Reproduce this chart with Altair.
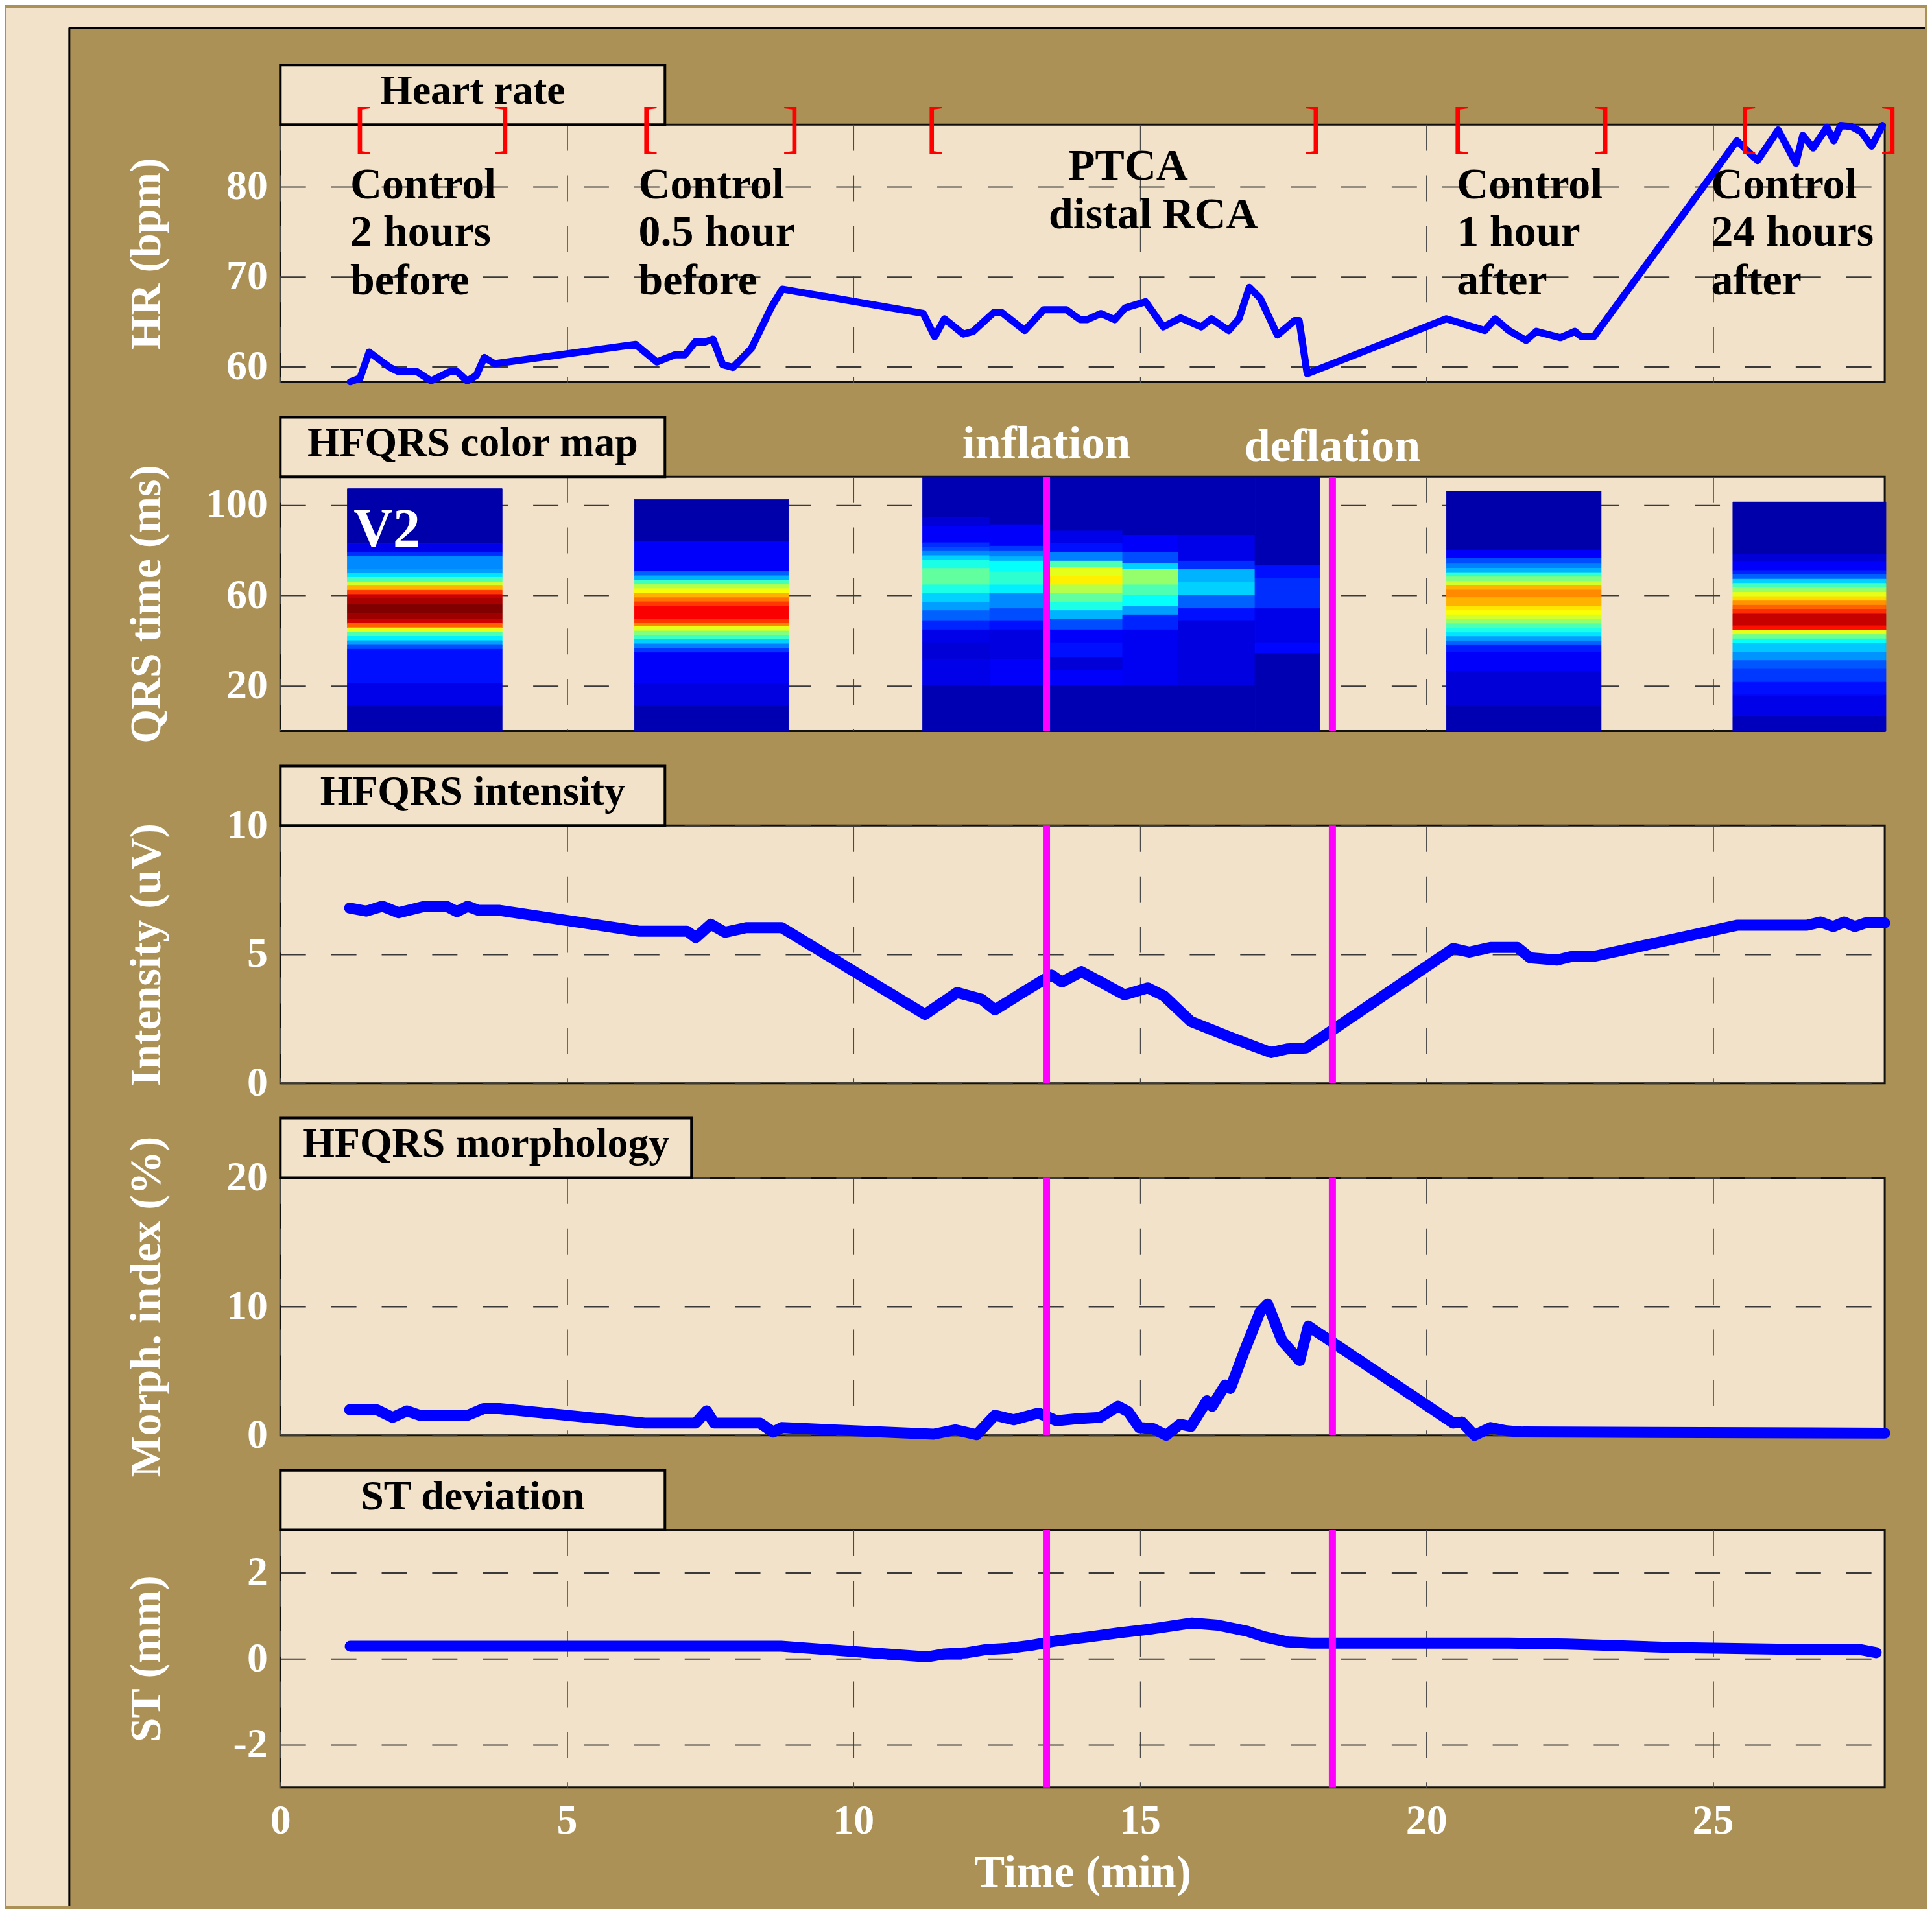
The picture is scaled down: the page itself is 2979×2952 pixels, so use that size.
import altair as alt
import pandas as pd

# ---------------- data ----------------
hr_t = [1.22, 1.39, 1.55, 1.91, 2.07, 2.39, 2.63, 2.95, 3.09, 3.26, 3.42, 3.56, 3.74,
        6.2, 6.57, 6.89, 7.06, 7.25, 7.4, 7.55, 7.72, 7.9, 8.22, 8.57, 8.76,
        11.22, 11.42, 11.59, 11.92, 12.09, 12.45, 12.59, 12.99, 13.32, 13.72, 13.96, 14.08,
        14.32, 14.56, 14.74, 15.10, 15.41, 15.71, 16.07, 16.25, 16.55, 16.73, 16.91, 17.10,
        17.40, 17.70, 17.78, 17.92, 20.35, 21.02, 21.20, 21.44, 21.74, 21.92, 22.34, 22.59,
        22.71, 22.92, 25.42, 25.78, 26.14, 26.45, 26.57, 26.75, 26.99, 27.11, 27.23, 27.41,
        27.59, 27.77, 27.96]
hr_v = [58.3, 58.7, 61.6, 59.9, 59.4, 59.4, 58.4, 59.4, 59.4, 58.4, 59.0, 61.0, 60.3,
        62.45, 60.5, 61.3, 61.3, 62.8, 62.7, 63.05, 60.2, 59.9, 62.0, 66.6, 68.6,
        65.9, 63.3, 65.3, 63.6, 63.9, 66.0, 66.0, 64.0, 66.3, 66.3, 65.2, 65.2,
        65.9, 65.2, 66.5, 67.2, 64.4, 65.4, 64.4, 65.3, 64.0, 65.3, 68.8, 67.6,
        63.5, 65.1, 65.1, 59.2, 65.3, 64.0, 65.3, 64.0, 62.9, 63.9, 63.2, 63.9,
        63.3, 63.3, 85.1, 82.9, 86.3, 82.6, 85.7, 84.3, 86.6, 85.1, 86.8, 86.7,
        86.1, 84.5, 86.8]

int_t = [1.21, 1.5, 1.78, 2.06, 2.52, 2.9, 3.08, 3.27, 3.46, 3.83, 6.26, 7.1, 7.25, 7.51,
         7.76, 8.13, 8.75, 11.25, 11.81, 12.24, 12.47, 12.99, 13.46, 13.64, 13.98, 14.39,
         14.73, 15.14, 15.42, 15.89, 16.54, 17.01, 17.29, 17.57, 17.9, 20.47, 20.75,
         21.12, 21.59, 21.81, 22.28, 22.52, 22.9, 25.42, 26.64, 26.88, 27.1, 27.29, 27.48,
         27.66, 28.0]
int_v = [6.8, 6.68, 6.87, 6.62, 6.87, 6.87, 6.66, 6.87, 6.71, 6.71, 5.9, 5.9, 5.65, 6.17,
         5.86, 6.04, 6.04, 2.67, 3.52, 3.26, 2.85, 3.57, 4.2, 3.93, 4.33, 3.84,
         3.43, 3.7, 3.39, 2.4, 1.82, 1.42, 1.19, 1.33, 1.37, 5.23, 5.09,
         5.27, 5.27, 4.87, 4.78, 4.91, 4.91, 6.13, 6.13, 6.26, 6.08, 6.26, 6.08,
         6.22, 6.22]

mor_t = [1.21, 1.68, 1.96, 2.21, 2.43, 3.27, 3.55, 3.83, 6.36, 7.25, 7.44, 7.57, 8.37, 8.6,
         8.75, 11.4, 11.78, 12.15, 12.47, 12.8, 13.23, 13.55, 13.93, 14.3, 14.62, 14.8,
         14.99, 15.23, 15.46, 15.7, 15.89, 16.17, 16.26, 16.49, 16.58, 16.82, 17.1, 17.23,
         17.48, 17.79, 17.94, 20.47, 20.62, 20.84, 21.12, 21.4, 21.68, 28.0]
mor_v = [1.99, 1.99, 1.39, 1.9, 1.56, 1.56, 2.08, 2.08, 0.95, 0.95, 1.9, 0.95, 0.95, 0.26,
         0.6, 0.09, 0.43, 0.05, 1.56, 1.21, 1.73, 1.13, 1.3, 1.39, 2.25, 1.82,
         0.6, 0.52, 0.0, 0.87, 0.69, 2.68, 2.25, 3.9, 3.64, 6.49, 9.61, 10.2,
         7.36, 5.8, 8.48, 0.95, 1.04, 0.0, 0.6, 0.35, 0.26, 0.17]

st_t = [1.22, 8.74, 11.28, 11.59, 11.99, 12.3, 12.7, 13.11, 13.52, 14.13, 14.63, 15.14,
        15.55, 15.91, 16.36, 16.87, 17.17, 17.58, 17.99, 21.44, 22.46, 24.29, 26.12,
        27.54, 27.85]
st_v = [0.29, 0.29, 0.04, 0.11, 0.14, 0.21, 0.24, 0.31, 0.41, 0.51, 0.6, 0.68,
        0.76, 0.83, 0.78, 0.64, 0.51, 0.39, 0.36, 0.36, 0.34, 0.26, 0.22,
        0.22, 0.14]

# HFQRS colour map: column blocks (time span) with band edges (ms, top->bottom)
# and normalised HF-QRS intensity per band
hm_span = [(1.17, 3.87), (6.18, 8.87),
           (11.21, 12.38), (12.38, 13.37), (13.37, 14.7), (14.7, 15.67), (15.67, 17.01),
           (17.01, 18.14),
           (20.35, 23.05), (25.35, 28.02)]
hm_edges = [
    [107.2, 83, 79, 77.3, 71.6, 69.7, 68, 66, 64.2, 62.3, 60.4, 58.5, 56, 52, 49.6, 47.6,
     45.7, 43.8, 41.9, 40, 38, 36.2, 21, 11, 0],
    [102.5, 84, 70.6, 68.7, 66.8, 64.9, 63, 61, 59, 57.2, 55.3, 49.6, 47.6, 46.2, 44.3,
     42.4, 40.5, 38.6, 36.7, 34.8, 21, 11, 0],
    [112.5, 94.6, 90.4, 83.3, 81.4, 79.5, 77.6, 75.7, 71.9, 64.7, 60.9, 57.1, 53.3, 48.6,
     44.8, 39.1, 31.5, 20.1, 0],
    [112.5, 91.3, 81.8, 79.5, 77.1, 75.2, 70.4, 64.7, 60.9, 54.3, 48.6, 44.8, 31.5, 20.1, 0],
    [112.5, 88.5, 82.8, 79, 75.2, 72.3, 68.5, 64.7, 60.9, 57.1, 53.3, 49.5, 44.8, 39.1,
     32.5, 26.7, 20.1, 0],
    [112.5, 86.6, 79, 74.2, 71.4, 64.7, 60, 55.2, 51.4, 44.8, 20.1, 0],
    [112.5, 86.6, 75.2, 71.4, 65.7, 60, 54.3, 48.6, 20.1, 0],
    [112.5, 73.3, 67.6, 54.3, 39.1, 34.3, 0],
    [106, 80.1, 76.3, 73.9, 72, 70.1, 68.2, 66.2, 64.3, 62.4, 59, 55.2, 53.3, 51.4, 49.4,
     47.5, 45.6, 43.7, 41.8, 39.9, 37.9, 35, 26.4, 11, 0],
    [101.3, 78.2, 74.9, 71, 69.1, 67.2, 65.3, 63.4, 61.4, 59.5, 57.6, 55.7, 53.8, 51.8,
     46.6, 44.7, 42.7, 40.8, 38.9, 35, 31.2, 27.4, 21.6, 15.9, 6.3, 0],
]
hm_vals = [
    [0.03, 0.1, 0.17, 0.26, 0.28, 0.35, 0.45, 0.58, 0.7, 0.82, 0.93, 0.96, 1.0, 0.97, 0.92,
     0.78, 0.6, 0.45, 0.36, 0.28, 0.2, 0.14, 0.1, 0.04],
    [0.03, 0.12, 0.22, 0.3, 0.44, 0.55, 0.62, 0.7, 0.76, 0.82, 0.88, 0.82, 0.74, 0.6, 0.5,
     0.43, 0.33, 0.25, 0.18, 0.12, 0.09, 0.04],
    [0.04, 0.08, 0.12, 0.17, 0.2, 0.26, 0.33, 0.4, 0.47, 0.4, 0.33, 0.28, 0.22, 0.16, 0.1,
     0.08, 0.1, 0.04],
    [0.04, 0.12, 0.18, 0.25, 0.3, 0.38, 0.42, 0.36, 0.26, 0.2, 0.14, 0.09, 0.12, 0.04],
    [0.04, 0.1, 0.14, 0.25, 0.45, 0.6, 0.64, 0.55, 0.47, 0.4, 0.3, 0.2, 0.12, 0.14, 0.08,
     0.12, 0.04],
    [0.04, 0.12, 0.2, 0.33, 0.52, 0.45, 0.38, 0.28, 0.16, 0.11, 0.04],
    [0.04, 0.1, 0.17, 0.3, 0.33, 0.22, 0.14, 0.09, 0.04],
    [0.04, 0.14, 0.17, 0.1, 0.13, 0.04],
    [0.03, 0.12, 0.2, 0.25, 0.3, 0.42, 0.5, 0.58, 0.7, 0.74, 0.7, 0.65, 0.62, 0.58, 0.52,
     0.45, 0.4, 0.35, 0.28, 0.22, 0.15, 0.12, 0.08, 0.04],
    [0.03, 0.08, 0.12, 0.16, 0.22, 0.33, 0.44, 0.52, 0.6, 0.66, 0.73, 0.78, 0.83, 0.93,
     0.86, 0.6, 0.48, 0.38, 0.32, 0.27, 0.21, 0.18, 0.14, 0.1, 0.05],
]

balloon_t = [13.37, 18.36]
balloon_label = ["inflation", "deflation"]
balloon_label_y = [120.5, 119.4]

ann_text = ["Control", "2 hours", "before", "Control", "0.5 hour", "before",
            "Control", "1 hour", "after", "Control", "24 hours", "after",
            "PTCA", "distal RCA"]
ann_t = [1.22, 1.22, 1.22, 6.25, 6.25, 6.25, 20.53, 20.53, 20.53, 24.97, 24.97, 24.97,
         13.75, 13.41]
ann_y = [78.7, 73.4, 68.05, 78.7, 73.4, 68.05, 78.7, 73.4, 68.05, 78.7, 73.4, 68.05,
         80.76, 75.35]

br_t = [1.44, 3.87, 6.44, 8.92, 11.42, 18.02, 20.6, 23.07, 25.61, 28.08]
br_s = ["[", "]", "[", "]", "[", "]", "[", "]", "[", "]"]
br_y = 84.5

panel_titles = ["Heart rate", "HFQRS color map", "HFQRS intensity", "HFQRS morphology",
                "ST deviation"]
x_ticks = [0, 5, 10, 15, 20, 25]

# ---------------- style ----------------
FONT = "Liberation Serif"
BEIGE = "#f1e2c9"
KHAKI = "#ab9155"
W = 2478
H = [398, 393, 398, 398, 398]
BOX_W = [594, 594, 594, 635, 594]
XS = alt.Scale(domain=[0, 28], nice=False, zero=False)


def xaxis(bottom):
    common = dict(values=x_ticks, grid=True, gridDash=[40, 38], gridColor="#4a4a4a",
                  gridWidth=1.5, domain=False, ticks=False, labelFlush=False)
    if bottom:
        return alt.Axis(title="Time (min)", labelPadding=20, labelFont=FONT,
                        labelFontSize=64, labelFontWeight="bold", labelColor="white",
                        titleFont=FONT, titleFontSize=70, titleFontWeight="bold",
                        titleColor="white", titleX=W / 2, titleY=153,
                        titleBaseline="alphabetic", titleAlign="center", **common)
    return alt.Axis(title=None, labels=False, **common)


def yaxis(title, values, h, expr=None):
    kw = dict(title=title, values=values, grid=True, gridDash=[39, 39],
              gridColor="#3a3a3a", gridWidth=2, domain=False, ticks=False,
              labelPadding=20, labelFont=FONT, labelFontSize=64,
              labelFontWeight="bold", labelColor="white", titleFont=FONT,
              titleFontSize=68, titleFontWeight="bold", titleColor="white",
              titleAngle=270, titleX=-186, titleY=h / 2, titleBaseline="alphabetic",
              titleAlign="center")
    if expr:
        kw["labelExpr"] = expr
    return alt.Axis(**kw)


def title_layers(i):
    df = pd.DataFrame({"label": [panel_titles[i]]})
    box = alt.Chart(df).mark_rect(fill=BEIGE, stroke="black", strokeWidth=4).encode(
        x=alt.value(0), x2=alt.value(BOX_W[i]), y=alt.value(-92), y2=alt.value(0))
    txt = alt.Chart(df).mark_text(font=FONT, fontSize=64, fontWeight="bold",
                                  color="black", align="center",
                                  baseline="alphabetic").encode(
        x=alt.value(BOX_W[i] / 2), y=alt.value(-32), text="label:N")
    return [box, txt]


def line_layer(t, v, ys, ya, xa, width):
    df = pd.DataFrame({"t": t, "v": v})
    return alt.Chart(df).mark_line(color="#0000ff", strokeWidth=width,
                                   strokeJoin="round", strokeCap="round").encode(
        x=alt.X("t:Q", scale=XS, axis=xa), y=alt.Y("v:Q", scale=ys, axis=ya))


def balloon_layer(xa):
    df = pd.DataFrame({"t": balloon_t})
    return alt.Chart(df).mark_rule(color="#ff00ff", strokeWidth=11).encode(
        x=alt.X("t:Q", scale=XS, axis=xa))


# ---------------- panel 1: heart rate ----------------
deco = pd.DataFrame({"k": [0]})
strip_left = alt.Chart(deco).mark_rect(fill=BEIGE).encode(
    x=alt.value(-423), x2=alt.value(-326), y=alt.value(-180), y2=alt.value(2752))
strip_top = alt.Chart(deco).mark_rect(fill=BEIGE).encode(
    x=alt.value(-423), x2=alt.value(2540), y=alt.value(-180), y2=alt.value(-150))
border_v = alt.Chart(deco).mark_rule(color="black", strokeWidth=3).encode(
    x=alt.value(-326), y=alt.value(-150), y2=alt.value(2752))
border_h = alt.Chart(deco).mark_rule(color="black", strokeWidth=3).encode(
    x=alt.value(-326), x2=alt.value(2540), y=alt.value(-150))

ys1 = alt.Scale(domain=[58.25, 86.9], nice=False, zero=False)
ya1 = yaxis("HR (bpm)", [60, 70, 80], H[0])
xa_top = xaxis(False)
ann_df = pd.DataFrame({"t": ann_t, "v": ann_y, "s": ann_text})
ann = alt.Chart(ann_df).mark_text(font=FONT, fontSize=68, fontWeight="bold",
                                  color="black", align="left",
                                  baseline="alphabetic").encode(
    x=alt.X("t:Q", scale=XS, axis=xa_top), y=alt.Y("v:Q", scale=ys1, axis=ya1),
    text="s:N")
br_df = pd.DataFrame({"t": br_t, "v": [br_y] * len(br_t), "s": br_s})
brackets = alt.Chart(br_df).mark_text(font=FONT, fontSize=86, color="#ff0000",
                                      align="center", baseline="alphabetic").encode(
    x=alt.X("t:Q", scale=XS, axis=xa_top), y=alt.Y("v:Q", scale=ys1, axis=ya1),
    text="s:N")
p1 = alt.layer(strip_left, strip_top, border_v, border_h, *title_layers(0),
               line_layer(hr_t, hr_v, ys1, ya1, xa_top, 11), ann, brackets
               ).properties(width=W, height=H[0])

# ---------------- panel 2: colour map ----------------
rows = []
for (x0, x1), edges, vals in zip(hm_span, hm_edges, hm_vals):
    assert len(edges) == len(vals) + 1
    for k, val in enumerate(vals):
        rows.append({"x0": x0, "x1": x1, "y0": edges[k + 1], "y1": edges[k], "v": val})
hm_df = pd.DataFrame(rows)
ys2 = alt.Scale(domain=[0, 112.5], nice=False, zero=False)
ya2 = yaxis("QRS time (ms)", [20, 60, 100], H[1])
jet = alt.Scale(domain=[0, 0.125, 0.375, 0.625, 0.875, 1],
                range=["#00008f", "#0000ff", "#00ffff", "#ffff00", "#ff0000", "#800000"],
                interpolate="rgb")
heat = alt.Chart(hm_df).mark_rect(strokeWidth=1).encode(
    x=alt.X("x0:Q", scale=XS, axis=xa_top), x2="x1:Q",
    y=alt.Y("y0:Q", scale=ys2, axis=ya2), y2="y1:Q",
    color=alt.Color("v:Q", scale=jet, legend=None),
    stroke=alt.Stroke("v:Q", scale=jet, legend=None))
bl_df = pd.DataFrame({"t": balloon_t, "v": balloon_label_y, "s": balloon_label})
bl_txt = alt.Chart(bl_df).mark_text(font=FONT, fontSize=72, fontWeight="bold",
                                    color="white", align="center",
                                    baseline="alphabetic").encode(
    x=alt.X("t:Q", scale=XS, axis=xa_top), y=alt.Y("v:Q", scale=ys2, axis=ya2),
    text="s:N")
v2_df = pd.DataFrame({"t": [1.28], "v": [81.6], "s": ["V2"]})
v2_txt = alt.Chart(v2_df).mark_text(font=FONT, fontSize=84, fontWeight="bold",
                                    color="white", align="left",
                                    baseline="alphabetic").encode(
    x=alt.X("t:Q", scale=XS, axis=xa_top), y=alt.Y("v:Q", scale=ys2, axis=ya2),
    text="s:N")
p2 = alt.layer(*title_layers(1), heat, balloon_layer(xa_top), bl_txt, v2_txt
               ).properties(width=W, height=H[1])

# ---------------- panel 3: intensity ----------------
ys3 = alt.Scale(domain=[0, 10], nice=False, zero=False)
ya3 = yaxis("Intensity (uV)", [0, 5, 10], H[2])
p3 = alt.layer(*title_layers(2), line_layer(int_t, int_v, ys3, ya3, xa_top, 17),
               balloon_layer(xa_top)).properties(width=W, height=H[2])

# ---------------- panel 4: morphology ----------------
ys4 = alt.Scale(domain=[0, 20], nice=False, zero=False)
ya4 = yaxis("Morph. index (%)", [0, 10, 20], H[3])
p4 = alt.layer(*title_layers(3), line_layer(mor_t, mor_v, ys4, ya4, xa_top, 17),
               balloon_layer(xa_top)).properties(width=W, height=H[3])

# ---------------- panel 5: ST ----------------
ys5 = alt.Scale(domain=[-3, 3], nice=False, zero=False)
ya5 = yaxis("ST (mm)", [-2, 0, 2], H[4], expr="'' + datum.value")
xa_bot = xaxis(True)
p5 = alt.layer(*title_layers(4), line_layer(st_t, st_v, ys5, ya5, xa_bot, 17),
               balloon_layer(xa_bot)).properties(width=W, height=H[4])

chart = alt.vconcat(p1, p2, p3, p4, p5, spacing=146, bounds="flush").properties(
    background=KHAKI, padding={"left": 0, "top": 0, "right": 0, "bottom": 0}
).configure_view(fill=BEIGE, stroke="#111111", strokeWidth=3)

chart.save("out.html", embed_options={"renderer": "svg", "actions": False})
